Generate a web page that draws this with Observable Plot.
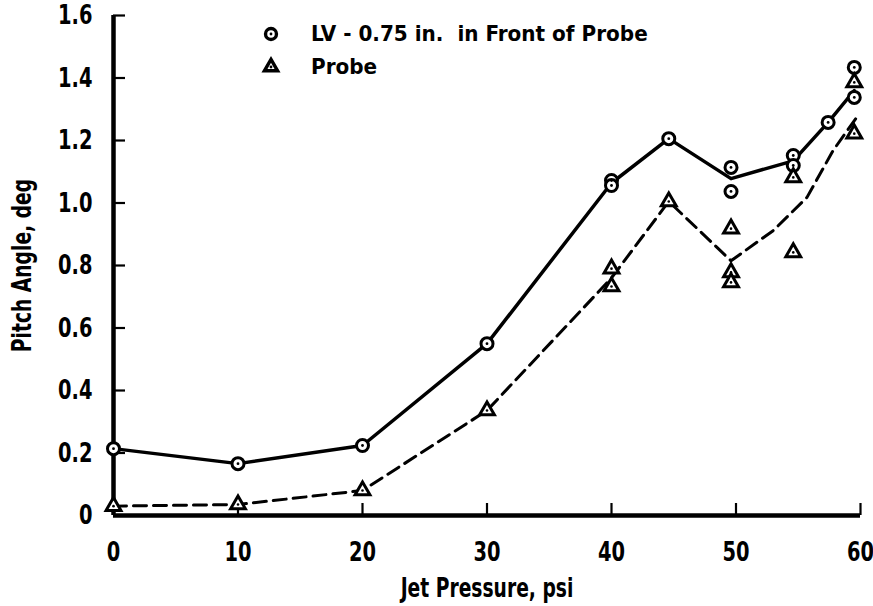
<!DOCTYPE html>
<html><head><meta charset="utf-8">
<script src="https://cdn.jsdelivr.net/npm/d3@7"></script>
<script src="https://cdn.jsdelivr.net/npm/@observablehq/plot@0.6"></script>
<style>
body{margin:0;background:#fff;}
#chart{width:873px;height:606px;}
</style></head><body><div id="chart"></div>
<script>
// LV - 0.75 in. in front of probe (circles)
const lvX = [0, 10, 20, 30, 40, 40, 44.6, 49.6, 49.6, 54.6, 54.6, 57.4, 59.5, 59.5];
const lvY = [0.214, 0.166, 0.224, 0.55, 1.072, 1.056, 1.206, 1.114, 1.037, 1.152, 1.12, 1.258, 1.434, 1.338];
// faired solid curve through LV data
const lvLineX = [0, 10, 20, 30, 40, 44.6, 49.6, 54.6, 57.4, 59.5];
const lvLineY = [0.214, 0.166, 0.224, 0.55, 1.064, 1.206, 1.078, 1.135, 1.258, 1.36];
// Probe (triangles)
const probeX = [0, 10, 20, 30, 40, 40, 44.6, 49.6, 49.6, 49.6, 54.6, 54.6, 59.5, 59.5];
const probeY = [0.03, 0.035, 0.08, 0.336, 0.79, 0.733, 1.005, 0.918, 0.778, 0.746, 1.082, 0.842, 1.386, 1.222];
// faired dashed curve through probe data
const probeLineX = [0, 10, 20, 30, 40, 44.6, 49.6, 53, 55.7, 57.8, 59.8];
const probeLineY = [0.03, 0.035, 0.08, 0.336, 0.76, 1.005, 0.815, 0.912, 1.018, 1.168, 1.28];

const xTicks = [0, 10, 20, 30, 40, 50, 60];
const xTickLabels = ["0", "10", "20", "30", "40", "50", "60"];
const yTicks = [0, 0.2, 0.4, 0.6, 0.8, 1.0, 1.2, 1.4, 1.6];
const yTickLabels = ["0", "0.2", "0.4", "0.6", "0.8", "1.0", "1.2", "1.4", "1.6"];
const legendLabels = ["LV - 0.75 in.  in Front of Probe", "Probe"];
const xTitle = "Jet Pressure, psi";
const yTitle = "Pitch Angle, deg";

const W = 873, H = 606, mL = 113, mR = 13, mT = 15, mB = 91;
const pw = W - mL - mR, ph = H - mT - mB;
const font = "'DejaVu Sans Condensed', 'DejaVu Sans', sans-serif";

const toRows = (xs, ys) => xs.map((x, i) => ({x, y: ys[i]}));
const lvPts = toRows(lvX, lvY), lvLine = toRows(lvLineX, lvLineY);
const prPts = toRows(probeX, probeY), prLine = toRows(probeLineX, probeLineY);

const plot = Plot.plot({
  width: W, height: H,
  marginLeft: mL, marginRight: mR, marginTop: mT, marginBottom: mB,
  style: {fontFamily: font, fontWeight: "bold", background: "#fff", color: "#000", overflow: "visible"},
  x: {domain: [0, 60]},
  y: {domain: [0, 1.6]},
  marks: [
    Plot.axisX(xTicks, {tickSize: 0, tickPadding: 26, fontSize: 27, label: null,
      tickFormat: d => xTickLabels[xTicks.indexOf(d)]}),
    Plot.axisY(yTicks, {tickSize: 0, tickPadding: 21, fontSize: 27, label: null,
      tickFormat: d => yTickLabels[yTicks.indexOf(d)]}),
    Plot.ruleY(yTicks.filter(d => d > 0), {y: d => d, insetRight: pw - 12, stroke: "#000", strokeWidth: 2.2}),
    Plot.ruleX(xTicks.filter(d => d > 0), {x: d => d, insetTop: ph - 12, stroke: "#000", strokeWidth: 2.2}),
    Plot.ruleX([0], {stroke: "#000", strokeWidth: 4.5}),
    Plot.ruleY([0], {stroke: "#000", strokeWidth: 4.5}),
    Plot.text([xTitle], {frameAnchor: "bottom", textAnchor: "middle", lineAnchor: "middle", dy: 73, fontSize: 26, fill: "#000"}),
    Plot.text([yTitle], {frameAnchor: "left", textAnchor: "middle", lineAnchor: "middle", dx: -91, rotate: -90, fontSize: 26, fill: "#000"}),
    Plot.line(lvLine, {x: "x", y: "y", stroke: "#000", strokeWidth: 3.5}),
    Plot.line(prLine, {x: "x", y: "y", stroke: "#000", strokeWidth: 3, strokeDasharray: "13,7"}),
    Plot.dot(lvPts, {x: "x", y: "y", r: 6, fill: "#fff", stroke: "#000", strokeWidth: 3}),
    Plot.dot(lvPts, {x: "x", y: "y", r: 1.4, fill: "#000"}),
    Plot.dot(prPts, {x: "x", y: "y", symbol: "triangle", r: 5.5, fill: "#fff", stroke: "#000", strokeWidth: 3}),
    Plot.dot(prPts, {x: "x", y: "y", r: 1.3, fill: "#000"})
  ]
});

document.getElementById("chart").appendChild(plot);
const svg = d3.select(plot);
// compress text horizontally to mimic the condensed typewriter lettering
svg.selectAll("text").each(function () {
  const t = this.getAttribute("transform") || "";
  this.setAttribute("transform", t + " scale(0.8,1)");
});

// legend
const lg = svg.append("g").attr("font-family", font).attr("font-weight", "bold").attr("text-anchor", "start");
const rows = [{label: legendLabels[0], sym: d3.symbolCircle}, {label: legendLabels[1], sym: d3.symbolTriangle}];
rows.forEach((r, i) => {
  const cy = 34 + i * 33;
  const g = lg.append("g").attr("transform", `translate(271,${cy})`);
  g.append("path").attr("d", d3.symbol(r.sym, i === 0 ? Math.PI * 30 : Math.PI * 24)())
    .attr("fill", "#fff").attr("stroke", "#000").attr("stroke-width", 3.4);
  g.append("circle").attr("r", 1.4).attr("fill", "#000");
  lg.append("text").attr("transform", `translate(311,${cy}) scale(1.06,1)`)
    .attr("text-anchor", "start").attr("dy", "0.35em").attr("font-size", 21).attr("fill", "#000").text(r.label);
});
</script>
</body></html>
